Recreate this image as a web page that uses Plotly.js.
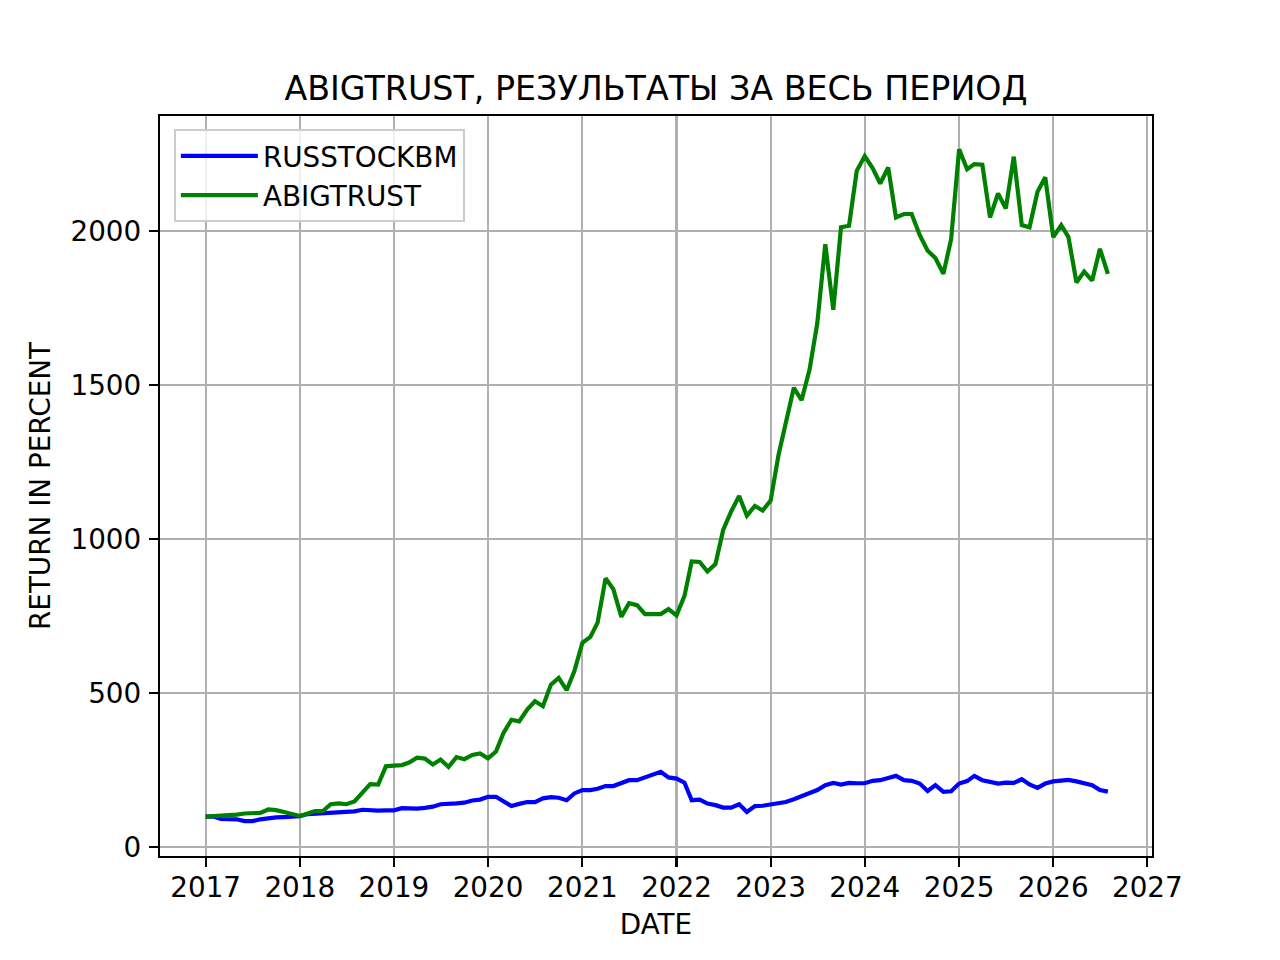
<!DOCTYPE html>
<html>
<head>
<meta charset="utf-8">
<script src="https://cdn.plot.ly/plotly-3.0.1.min.js"></script>
<style>
  html, body { margin: 0; padding: 0; background: #fff; }
  #chart { width: 1280px; height: 960px; }
</style>
</head>
<body>
<div id="chart"></div>
<script>
// monthly points, first of month, Jan 2017 .. Aug 2026
const startYear = 2017;
const monthCount = 116;

const russstockbm = [
  100, 100, 92, 91, 91, 85, 85, 91, 95, 97, 98, 99,
  101, 108, 109, 110, 111, 112, 114, 117, 122, 119, 119, 120,
  120, 127, 126, 126, 128, 132, 140, 143, 143, 145, 152, 155,
  164, 164, 148, 134, 141, 147, 147, 159, 163, 161, 153, 175,
  186, 186, 190, 199, 199, 210, 218, 218, 227, 238, 245, 227,
  223, 210, 153, 155, 142, 137, 129, 129, 140, 115, 134, 135,
  139, 142, 147, 156, 166, 175, 186, 202, 209, 204, 209, 208,
  208, 216, 218, 225, 232, 218, 216, 207, 183, 202, 180, 182,
  207, 215, 232, 218, 213, 207, 210, 209, 221, 204, 193, 207,
  214, 218, 219, 214, 207, 202, 186, 181
];

const abigtrust = [
  100, 101, 103, 103, 106, 110, 111, 112, 123, 121, 115, 107,
  102, 110, 118, 118, 140, 143, 140, 149, 175, 205, 204, 263,
  265, 267, 275, 291, 288, 269, 285, 261, 293, 286, 300, 305,
  289, 311, 371, 414, 409, 447, 474, 458, 528, 550, 510, 572,
  664, 683, 729, 873, 838, 748, 792, 786, 757, 757, 757, 773,
  753, 816, 928, 926, 895, 919, 1030, 1090, 1140, 1076, 1108, 1093,
  1125, 1275, 1372, 1491, 1451, 1550, 1701, 1957, 1744, 2012, 2017, 2195,
  2243, 2203, 2154, 2206, 2044, 2055, 2055, 1987, 1936, 1912, 1861, 1973,
  2265, 2200, 2217, 2215, 2044, 2122, 2073, 2241, 2019, 2012, 2127, 2174,
  1980, 2019, 1980, 1833, 1868, 1839, 1942, 1861
];

const yTicks = [0, 500, 1000, 1500, 2000];
const xTicks = ['2017', '2018', '2019', '2020', '2021', '2022', '2023', '2024', '2025', '2026', '2027'];

const dates = [];
for (let i = 0; i < monthCount; i++) {
  const y = startYear + Math.floor(i / 12);
  const m = (i % 12) + 1;
  dates.push(y + '-' + String(m).padStart(2, '0') + '-01');
}

const font = 'DejaVu Sans, sans-serif';

const traces = [
  { type: 'scatter', mode: 'lines', x: dates, y: russstockbm, name: 'RUSSTOCKBM',
    line: { color: '#0000ff', width: 4.2 } },
  { type: 'scatter', mode: 'lines', x: dates, y: abigtrust, name: 'ABIGTRUST',
    line: { color: '#008000', width: 4.2 } },
];

const axisCommon = {
  showgrid: true, gridcolor: '#b0b0b0', gridwidth: 2.2,
  showline: true, linecolor: '#000', linewidth: 2.2, mirror: true,
  ticks: 'outside', ticklen: 9, tickwidth: 2.2, tickcolor: '#000',
  zeroline: false,
  tickfont: { family: font, size: 27.8, color: '#000' },
};

const layout = {
  width: 1280, height: 960,
  paper_bgcolor: '#fff', plot_bgcolor: '#fff',
  margin: { l: 160, r: 128, t: 116, b: 104 },
  font: { family: font, color: '#000' },
  title: {
    text: 'ABIGTRUST, РЕЗУЛЬТАТЫ ЗА ВЕСЬ ПЕРИОД',
    font: { family: font, size: 33.3, color: '#000' },
    x: 0.5, xref: 'paper', xanchor: 'center',
    y: 1, yref: 'paper', yanchor: 'bottom', pad: { b: 16 },
  },
  xaxis: Object.assign({}, axisCommon, {
    type: 'date',
    range: ['2016-07-08', '2027-01-19'],
    tickvals: xTicks.map(t => t + '-01-01'),
    ticktext: xTicks,
    ticklabelstandoff: -4,
    title: { text: 'DATE', font: { family: font, size: 27.8, color: '#000' }, standoff: 12 },
  }),
  yaxis: Object.assign({}, axisCommon, {
    range: [-28, 2373],
    tickvals: yTicks,
    ticktext: yTicks.map(String),
    ticklabelstandoff: 2,
    title: { text: 'RETURN IN PERCENT', font: { family: font, size: 27.8, color: '#000' }, standoff: 12 },
  }),
  legend: {
    x: 0.014, y: 0.982, xanchor: 'left', yanchor: 'top',
    bgcolor: 'rgba(255,255,255,0.8)', bordercolor: '#cccccc', borderwidth: 2,
    font: { family: font, size: 27.8, color: '#000' },
    itemwidth: 77,
    tracegroupgap: 4,
  },
  showlegend: true,
};

Plotly.newPlot('chart', traces, layout, { displayModeBar: false, staticPlot: true });
</script>
</body>
</html>
